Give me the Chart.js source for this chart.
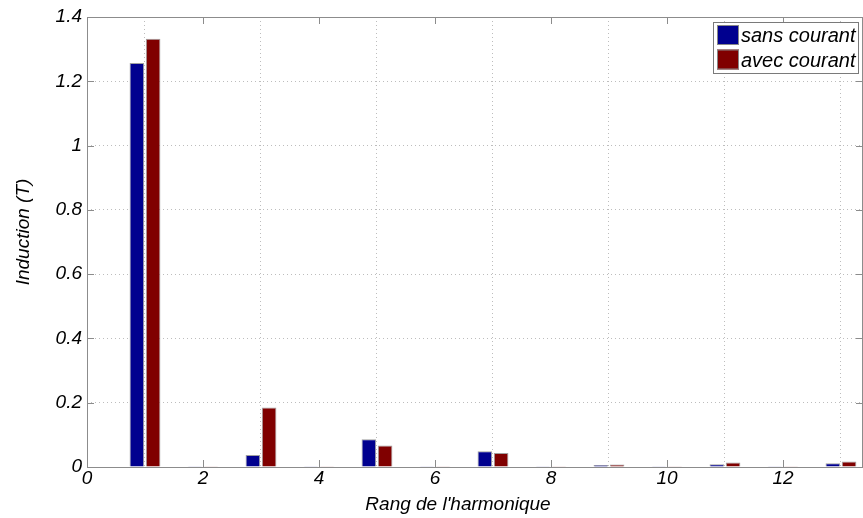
<!DOCTYPE html>
<html>
<head>
<meta charset="utf-8">
<script src="https://cdn.jsdelivr.net/npm/chart.js@4"></script>
<style>
  html, body { margin: 0; padding: 0; background: #fff; }
  #wrap { width: 863px; height: 518px; }
</style>
</head>
<body>
<div id="wrap"><canvas id="chart" width="863" height="518"></canvas></div>
<script>
// harmonic ranks and induction amplitudes (T)
const harmonics = [1, 2, 3, 4, 5, 6, 7, 8, 9, 10, 11, 12, 13];
const sansCourant = [1.257, 0.001, 0.037, 0.001, 0.086, 0.001, 0.049, 0.001, 0.006, 0.001, 0.0085, 0.001, 0.0115];
const avecCourant = [1.332, 0.001, 0.185, 0.001, 0.067, 0.001, 0.0435, 0.001, 0.0075, 0.001, 0.0137, 0.001, 0.017];
const seriesNames = ['sans courant', 'avec courant'];
const xTitle = "Rang de l'harmonique";
const yTitle = 'Induction (T)';

const FONT = '"Liberation Sans", Arial, sans-serif';
const tickFont = { family: FONT, size: 19, style: 'italic' };

// box around the axes, inward tick marks, axis titles and framed legend
const matlabLook = {
    id: 'matlabLook',
    afterDraw(chart) {
        const ctx = chart.ctx;
        const a = chart.chartArea;
        const x = chart.scales.x, y = chart.scales.y;
        ctx.save();
        ctx.strokeStyle = '#8c8c8c';
        ctx.lineWidth = 1;
        ctx.beginPath();
        ctx.moveTo(a.left + 0.5, a.bottom + 0.5);
        ctx.lineTo(a.left + 0.5, a.top + 0.5);
        ctx.lineTo(a.right - 0.5, a.top + 0.5);
        ctx.lineTo(a.right - 0.5, a.bottom + 0.5);
        ctx.lineTo(a.left + 0.5, a.bottom + 0.5);
        x.ticks.forEach(t => {
            const px = Math.round(x.getPixelForValue(t.value)) + 0.5;
            ctx.moveTo(px, a.bottom); ctx.lineTo(px, a.bottom - 7);
            ctx.moveTo(px, a.top); ctx.lineTo(px, a.top + 7);
        });
        y.ticks.forEach(t => {
            const py = Math.round(y.getPixelForValue(t.value)) + 0.5;
            ctx.moveTo(a.left, py); ctx.lineTo(a.left + 7, py);
            ctx.moveTo(a.right, py); ctx.lineTo(a.right - 7, py);
        });
        ctx.stroke();

        // axis titles
        ctx.fillStyle = '#000';
        ctx.font = 'italic 19px ' + FONT;
        ctx.textAlign = 'center';
        ctx.textBaseline = 'middle';
        ctx.fillText(xTitle, 458, 505);
        ctx.save();
        ctx.translate(24, 232);
        ctx.rotate(-Math.PI / 2);
        ctx.fillText(yTitle, 0, 0);
        ctx.restore();

        // legend
        const lx = 713, ly = 22, lw = 145, lh = 51;
        ctx.fillStyle = '#fff';
        ctx.fillRect(lx, ly, lw, lh);
        ctx.strokeStyle = '#7a7a7a';
        ctx.strokeRect(lx + 0.5, ly + 0.5, lw, lh);
        ctx.font = 'italic 20px ' + FONT;
        ctx.textAlign = 'left';
        ctx.textBaseline = 'alphabetic';
        chart.data.datasets.forEach((ds, i) => {
            const sy = ly + 3 + i * 24.5;
            ctx.fillStyle = ds.backgroundColor;
            ctx.fillRect(lx + 4, sy, 22, 20);
            ctx.strokeStyle = '#888';
            ctx.strokeRect(lx + 4.5, sy + 0.5, 21, 19);
            ctx.fillStyle = '#000';
            ctx.fillText(ds.label, lx + 28, sy + 17);
        });
        ctx.restore();
    }
};

new Chart(document.getElementById('chart'), {
    type: 'bar',
    data: {
        labels: harmonics,
        datasets: [
            { label: seriesNames[0], data: sansCourant, backgroundColor: '#00008f', borderColor: '#a0a0a0', borderWidth: { top: 1, left: 1, right: 1, bottom: 0 }, borderSkipped: false },
            { label: seriesNames[1], data: avecCourant, backgroundColor: '#800000', borderColor: '#a0a0a0', borderWidth: { top: 1, left: 1, right: 1, bottom: 0 }, borderSkipped: false }
        ]
    },
    options: {
        responsive: false,
        animation: false,
        datasets: { bar: { categoryPercentage: 0.56, barPercentage: 0.9 } },
        layout: { padding: { top: 17, right: 0, bottom: 0, left: 0 } },
        scales: {
            x: {
                type: 'linear',
                offset: false,
                min: 0,
                max: 13.38,
                afterFit: s => { s.height = 51; },
                ticks: { stepSize: 2, includeBounds: false, color: '#000', font: tickFont, padding: 0, maxRotation: 0 },
                grid: { color: '#bdbdbd', drawTicks: false, lineWidth: 1 },
                border: { display: false, dash: [1, 3] }
            },
            y: {
                min: 0,
                max: 1.4,
                afterFit: s => { s.width = 87; },
                ticks: {
                    stepSize: 0.2, color: '#000', font: tickFont, padding: 5,
                    callback: v => String(Number(v.toFixed(1)))
                },
                grid: { color: '#bdbdbd', drawTicks: false, lineWidth: 1 },
                border: { display: false, dash: [1, 3] }
            }
        },
        plugins: {
            legend: { display: false },
            tooltip: { enabled: false }
        }
    },
    plugins: [matlabLook]
});
</script>
</body>
</html>
